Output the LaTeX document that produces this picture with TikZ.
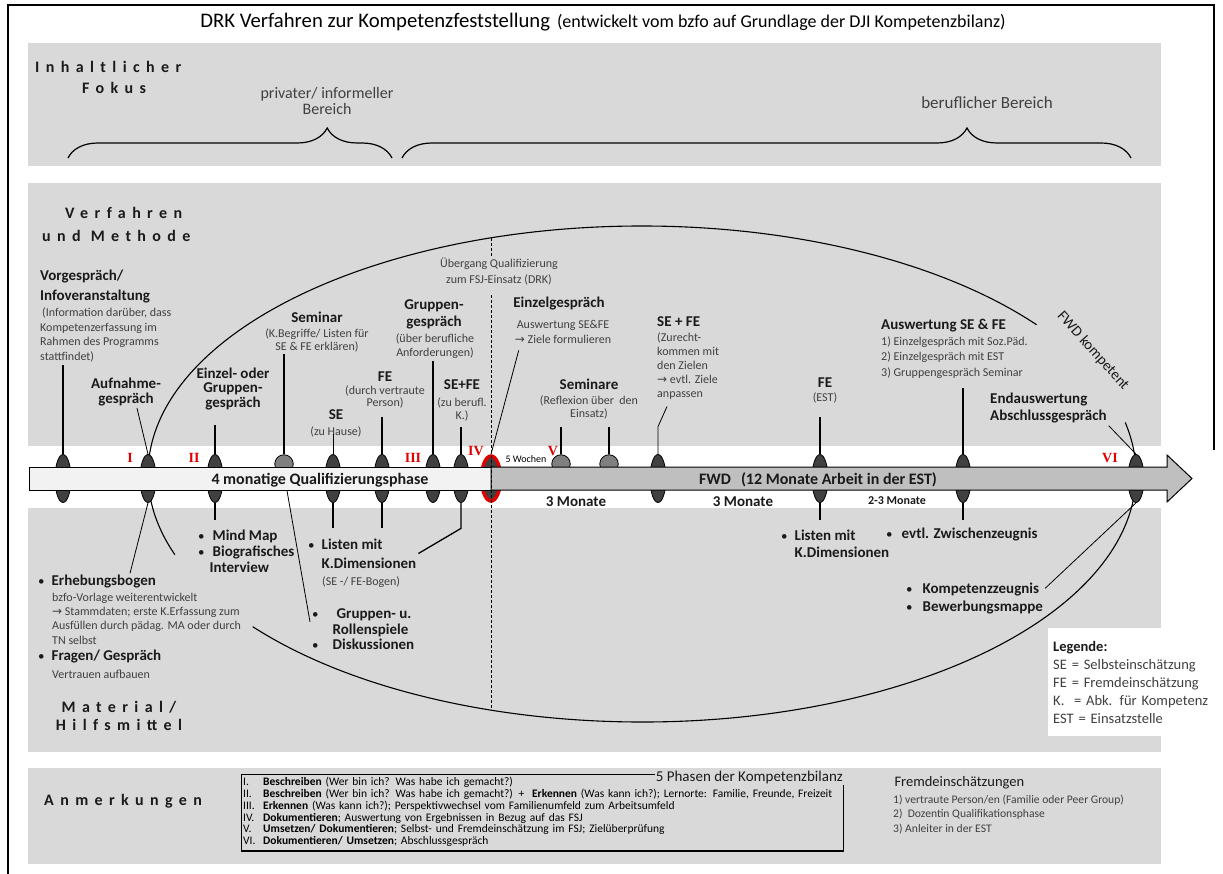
\documentclass[tikz,border=0pt]{standalone}
\usepackage{fontspec}
\setmainfont{Carlito}
\newfontfamily\spacedfont{Carlito}[LetterSpace=40]
\newfontfamily\numfont{Liberation Serif}
\newfontfamily\symfont{DejaVu Sans}
\usetikzlibrary{positioning,shapes.geometric,decorations.pathreplacing}
\definecolor{bandgray}{HTML}{D9D9D9}
\definecolor{markgray}{HTML}{404040}
\definecolor{ringgray}{HTML}{7F7F7F}
\definecolor{barlight}{HTML}{F2F2F2}
\definecolor{bardark}{HTML}{BFBFBF}
\definecolor{markred}{HTML}{E00000}
\definecolor{headtext}{HTML}{1A1A1A}
\definecolor{notetext}{HTML}{404040}
\newcommand{\rarr}{{\symfont →}}
\newcommand{\bul}{{\mdseries\fontsize{13}{13}\selectfont\textbullet}}

\begin{document}
\begin{tikzpicture}[x=1pt, y=-1pt]
    \tikzset{
        band/.style = {fill=bandgray, draw=none},
        dotmark/.style = {ellipse, draw=black, line width=0.8pt, fill=markgray, minimum width=16pt, minimum height=48pt, inner sep=0pt},
        ringmark/.style = {circle, draw=black, line width=0.8pt, fill=ringgray, minimum size=18.5pt, inner sep=0pt},
        redmark/.style = {ellipse, draw=markred, line width=3.5pt, fill=markgray, minimum width=19pt, minimum height=45pt, inner sep=0pt},
        head/.style = {font=\bfseries\fontsize{15}{15}\selectfont, text=headtext, align=center, inner sep=2pt},
        note/.style = {font=\fontsize{12}{14}\selectfont, text=notetext, align=center, inner sep=2pt},
        spaced/.style = {font=\spacedfont\bfseries\fontsize{16}{18}\selectfont, text=headtext, inner sep=2pt},
        numeral/.style = {font=\numfont\bfseries\fontsize{14}{14}\selectfont, text=markred, inner sep=0pt},
        bartext/.style = {font=\bfseries\fontsize{16}{16}\selectfont, text=headtext, inner sep=1pt},
        stem/.style = {line width=2pt},
        midstem/.style = {line width=1.3pt},
        thinstem/.style = {line width=0.8pt},
        curve/.style = {line width=1.1pt},
        phasebar/.style = {line width=1pt, draw=black},
        dashline/.style = {line width=0.9pt, dash pattern=on 3pt off 2pt},
        bracket/.style = {decorate, decoration={brace, amplitude=30pt, aspect=#1}, line width=1.2pt},
        phasebox/.style = {inner xsep=2pt, inner ysep=3pt, text width=598pt, align=left, font=\fontsize{11.5}{11.6}\selectfont},
    }
    \useasboundingbox (0,0) rectangle (1223,874);

    % bands and frame
    \path[band] (28,43) rectangle (1161,166);
    \path[band] (28,183) rectangle (1161,446);
    \path[band] (28,508) rectangle (1161,752);
    \path[band] (28,768) rectangle (1161,864);
    \draw[line width=2pt] (8,874) -- (8,5) -- (1214,5) -- (1214,450);

    \node (title) at (603,22) {\fontsize{20.7}{22}\selectfont DRK Verfahren zur Kompetenzfeststellung\hspace{7pt}{\fontsize{18}{20}\selectfont(entwickelt vom bzfo auf Grundlage der DJI Kompetenzbilanz)}};

    % Inhaltlicher Fokus
    \node[spaced, anchor=west] (inhalt) at (33,67) {Inhaltlicher};
    \node[spaced, anchor=west] (fokus) at (80,88) {Fokus};
    \node[note, font=\fontsize{16}{16}\selectfont] (privat) at (327,101) {privater/ informeller\\Bereich};
    \node[note, font=\fontsize{17}{17}\selectfont] (beruf) at (987,103) {beruflicher Bereich};
    \draw[bracket=0.8] (68,158) -- (392,158);
    \draw[bracket=0.775] (402,158) -- (1131,158);

    % Verfahren und Methode
    \node[spaced, anchor=west] (verf) at (63,213) {Verfahren};
    \node[spaced, anchor=west] (meth) at (40,236) {und Methode};
    \node[head, align=left, anchor=west, font=\bfseries\fontsize{15}{20}\selectfont] (vorg) at (38,287) {Vorgespräch/\\Infoveranstaltung};
    \node[note, align=left, anchor=west, font=\fontsize{12}{14.8}\selectfont] (vorgnote) at (38,335) {\hspace{2pt}(Information darüber, dass\\Kompetenzerfassung im\\Rahmen des Programms\\stattfindet)};
    \node[head] (aufn) at (126,392) {Aufnahme-\\gespräch};
    \node[head, font=\bfseries\fontsize{15}{14.2}\selectfont] (einz) at (233,389) {Einzel- oder\\Gruppen-\\gespräch};
    \node[head] (sem) at (317,317) {Seminar};
    \node[note, font=\fontsize{12}{13}\selectfont] (semnote) at (317,340.5) {(K.Begriffe/ Listen für\\SE \& FE erklären)};
    \node[head] (se) at (336,415) {SE};
    \node[note] (senote) at (336,432) {(zu Hause)};
    \node[head] (fe) at (385,377) {FE};
    \node[note, font=\fontsize{12}{12.5}\selectfont] (fenote) at (385,397) {(durch vertraute\\Person)};
    \node[head, font=\bfseries\fontsize{15}{17}\selectfont] (grup) at (434,314.5) {Gruppen-\\gespräch};
    \node[note] (grupnote) at (435,346) {(über berufliche\\Anforderungen)};
    \node[head] (sefe) at (462,385) {SE+FE};
    \node[note, font=\fontsize{12}{13}\selectfont] (sefenote) at (462,409.5) {(zu berufl.\\K.)};
    \node[note, font=\fontsize{12}{16}\selectfont] (ueber) at (499,272) {Übergang Qualifizierung\\zum FSJ-Einsatz (DRK)};
    \node[head] (einzg) at (559,304) {Einzelgespräch};
    \node[note, font=\fontsize{12}{15}\selectfont] (einzgnote) at (563,331.5) {Auswertung SE\&FE\\\rarr\ Ziele formulieren};
    \node[head] (semi) at (589,384) {Seminare};
    \node[note, font=\fontsize{12}{13}\selectfont] (seminote) at (589,407.5) {(Reflexion über\ \ den\\Einsatz)};
    \node[head, anchor=west] (sefe2) at (655,322) {SE + FE};
    \node[note, align=left, anchor=west] (sefe2note) at (655,366) {(Zurecht-\\kommen mit\\den Zielen\\\rarr\ evtl. Ziele\\anpassen};
    \node[head] (fe2) at (825,383) {FE};
    \node[note] (fe2note) at (825,398) {(EST)};
    \node[head, anchor=west] (ausw) at (879,326) {Auswertung SE \& FE};
    \node[note, align=left, anchor=west, font=\fontsize{12}{15.5}\selectfont] (auswnote) at (879,357.5) {1) Einzelgespräch mit Soz.Päd.\\2) Einzelgespräch mit EST\\3) Gruppengespräch Seminar};
    \node[head, align=left, anchor=west, font=\bfseries\fontsize{15}{17}\selectfont] (endw) at (988,408.5) {Endauswertung\\Abschlussgespräch};
    \node[font=\fontsize{15}{15}\selectfont, text=headtext, rotate=-48, inner sep=0pt] (fwdk) at (1093,351) {FWD kompetent};

    % Material / Hilfsmittel
    \node[head, align=left, anchor=west, font=\bfseries\fontsize{15}{16}\selectfont] (mind) at (196,551) {\bul\hspace{8pt}Mind Map\\\bul\hspace{8pt}Biografisches\\\hphantom{\bul\hspace{5pt}}Interview};
    \node[head, align=left, anchor=west, font=\bfseries\fontsize{15}{19}\selectfont] (listen) at (306,553.5) {\bul\hspace{7pt}Listen mit\\\hphantom{\bul\hspace{7pt}}K.Dimensionen};
    \node[note, anchor=west] (listennote) at (320,582) {(SE -/ FE-Bogen)};
    \node[head, align=left, anchor=west, font=\bfseries\fontsize{15}{15.5}\selectfont] (rolle) at (310,629.5) {\bul\hspace{18pt}Gruppen- u.\\\hphantom{\bul}\hspace{14pt}Rollenspiele\\\bul\hspace{14pt}Diskussionen};
    \node[head, anchor=west] (erheb) at (36,582) {\bul\hspace{7pt}Erhebungsbogen};
    \node[note, align=left, anchor=west, font=\fontsize{12}{14.3}\selectfont] (erhebnote) at (50,618.5) {bzfo-Vorlage weiterentwickelt\\\rarr\ Stammdaten; erste K.Erfassung zum\\Ausfüllen durch pädag. MA oder durch\\TN selbst};
    \node[head, anchor=west] (fragen) at (36,657) {\bul\hspace{7pt}Fragen/ Gespräch};
    \node[note, anchor=west] (fragennote) at (50,674) {Vertrauen aufbauen};
    \node[spaced] (mat) at (119,707) {Material/};
    \node[spaced] (hilf) at (119,725) {Hilfsmittel};
    \node[head, align=left, anchor=west, font=\bfseries\fontsize{15}{17}\selectfont] (listen2) at (779,543.5) {\bul\hspace{7pt}Listen mit\\\hphantom{\bul\hspace{7pt}}K.Dimensionen};
    \node[head, anchor=west] (zwisch) at (884,535) {\bul\hspace{9pt}evtl. Zwischenzeugnis};
    \node[head, align=left, anchor=west, font=\bfseries\fontsize{15}{18}\selectfont] (kompz) at (904,599) {\bul\hspace{10pt}Kompetenzzeugnis\\\bul\hspace{10pt}Bewerbungsmappe};
    \node[fill=white, anchor=north west, minimum width=175pt, minimum height=108pt, text width=165pt, inner xsep=5pt, align=left, font=\fontsize{14.5}{18}\selectfont, text=notetext] (legend) at (1048,628) {{\bfseries\color{headtext}Legende:}\\SE = Selbsteinschätzung\\FE = Fremdeinschätzung\\K.\ \ = Abk. für Kompetenz\\EST = Einsatzstelle};

    % Anmerkungen
    \node[spaced, anchor=west] (anm) at (42,801) {Anmerkungen};
    \node[phasebox, anchor=north west] (phasen) at (241,774) {%
        \begin{tabular}{@{}p{20pt}@{}l@{}}
        I. & \textbf{Beschreiben} (Wer bin ich? Was habe ich gemacht?)\\
        II. & \textbf{Beschreiben} (Wer bin ich? Was habe ich gemacht?) +\ \ \textbf{Erkennen} (Was kann ich?); Lernorte: Familie, Freunde, Freizeit\\
        III. & \textbf{Erkennen} (Was kann ich?); Perspektivwechsel vom Familienumfeld zum Arbeitsumfeld\\
        IV. & \textbf{Dokumentieren}; Auswertung von Ergebnissen in Bezug auf das FSJ\\
        V. & \textbf{Umsetzen/ Dokumentieren}; Selbst- und Fremdeinschätzung im FSJ; Zielüberprüfung\\
        VI. & \textbf{Dokumentieren/ Umsetzen}; Abschlussgespräch
        \end{tabular}};
    \node[font=\fontsize{15}{15}\selectfont, text=headtext, anchor=east, inner sep=1pt] (phtitle) at (844,777) {5 Phasen der Kompetenzbilanz};
    \draw[line width=0.8pt] (phtitle.west |- phasen.north) -- (phasen.north west) -- (phasen.south west);
    \draw[line width=1.6pt] (phasen.south west) -- (phasen.south east) -- (phasen.east |- phtitle.south);
    \node[font=\fontsize{14.5}{15}\selectfont, text=headtext, anchor=west] (fremd) at (891,783) {Fremdeinschätzungen};
    \node[note, align=left, anchor=west, font=\fontsize{11.6}{14.5}\selectfont] (fremdnote) at (891,814.5) {1) vertraute Person/en (Familie oder Peer Group)\\2)\ \ Dozentin Qualifikationsphase\\3) Anleiter in der EST};

    % big ellipse
    \coordinate (ctr) at (642,474);
    \draw[curve] (ctr) ++(-179:494 and 248) arc[start angle=-179, end angle=-37, x radius=494, y radius=248];
    \draw[curve] (ctr) ++(-12:494 and 248) arc[start angle=-12, end angle=-1, x radius=494, y radius=248];
    \draw[curve] (ctr) ++(179:494 and 248) arc[start angle=179, end angle=161, x radius=494, y radius=248];
    \draw[curve] (ctr) ++(142:494 and 248) arc[start angle=142, end angle=2, x radius=494, y radius=248];
    \path (ctr) ++(-107.8:494 and 248) coordinate (dtop);
    \path (ctr) ++(107.8:494 and 248) coordinate (dbot);

    % markers on the time line
    \foreach \n/\x in {1/63,2/148,3/215,5/333,6/382,7/433,8/461,12/658,13/820,14/963,15/1136}
        \node[dotmark] (m\n) at (\x,478.5) {};
    \foreach \n/\x in {4/284,10/561,11/609}
        \node[ringmark] (m\n) at (\x,464) {};
    \node[redmark] (m9) at (491,478.5) {};

    % stems
    \draw[stem] (m1.north) -- (m1.north |- vorgnote.south);
    \draw[thinstem] (m2.north) -- ([xshift=11pt]aufn.south);
    \draw[thinstem] (m2.south) -- ([xshift=33pt]erheb.north);
    \draw[stem] (m3.north) -- ++(0,-29.5);
    \draw[stem] (m3.south) -- ++(0,17.5);
    \draw[stem] (m4.north) -- (m4.north |- semnote.south);
    \draw[thinstem] (m4.south) -- ([yshift=-15pt]rolle.north west);
    \draw[thinstem] (m5.north) -- ++(0,-20);
    \draw[midstem] (m5.south) -- ++(0,25.5);
    \draw[midstem] (m6.north) -- ++(0,-37.5);
    \draw[midstem] (m6.south) -- ++(0,25.5);
    \draw[stem] (m7.north) -- (m7.north |- grupnote.south);
    \draw[midstem] (m8.north) -- ++(0,-27.5);
    \draw[midstem] (m8.south) -- ++(0,25.5) -- (listen.east);
    \draw[thinstem] (m9.north) -- ([xshift=6pt,yshift=-5pt]einzgnote.south west);
    \draw[midstem] (m10.north) -- ++(0,-27.5);
    \draw[midstem] (m11.north) -- ++(0,-27.5);
    \draw[thinstem] (m12.north) -- ++(0,-27.5) -- ([xshift=12pt,yshift=-5pt]sefe2note.south west);
    \draw[stem] (m13.north) -- ++(0,-37.5);
    \draw[stem] (m13.south) -- ++(0,17.5);
    \draw[stem] (m14.north) -- ++(0,-66.5);
    \draw[stem] (m14.south) -- ++(0,17.5);
    \draw[thinstem] (m15.north) -- (endw.south east);
    \draw[thinstem] (m15.south) -- ([yshift=-7pt]kompz.north east);

    % time line bar
    \draw[phasebar, fill=barlight] (29,467) rectangle (491,490);
    \draw[phasebar, fill=bardark] (491,467) -- (1167,467) -- (1167,455) -- (1192,478.5) -- (1167,502) -- (1167,490) -- (491,490) -- cycle;
    \node[bartext] (qual) at (320,480) {4 monatige Qualifizierungsphase};
    \node[bartext] (fwd) at (818,480) {FWD\hspace{10pt}(12 Monate Arbeit in der EST)};
    \node[bartext, font=\bfseries\fontsize{15}{15}\selectfont] (mon1) at (576,502) {3 Monate};
    \node[bartext, font=\bfseries\fontsize{15}{15}\selectfont] (mon2) at (743,502) {3 Monate};
    \node[bartext, font=\bfseries\fontsize{12}{12}\selectfont] (mon3) at (897,501) {2-3 Monate};
    \node[font=\fontsize{10}{10}\selectfont, inner sep=1pt] (woch) at (526,459) {5 Wochen};

    \node[numeral] (n1) at (130,458) {I};
    \node[numeral] (n2) at (194,458) {II};
    \node[numeral] (n3) at (413,458) {III};
    \node[numeral] (n4) at (476,451) {IV};
    \node[numeral] (n5) at (553,451) {V};
    \node[numeral] (n6) at (1110,458) {VI};

    % transition line
    \draw[dashline] (dtop) -- (dtop |- ueber.north);
    \draw[dashline] (dtop |- einzg.north) -- (dbot);
\end{tikzpicture}
\end{document}
